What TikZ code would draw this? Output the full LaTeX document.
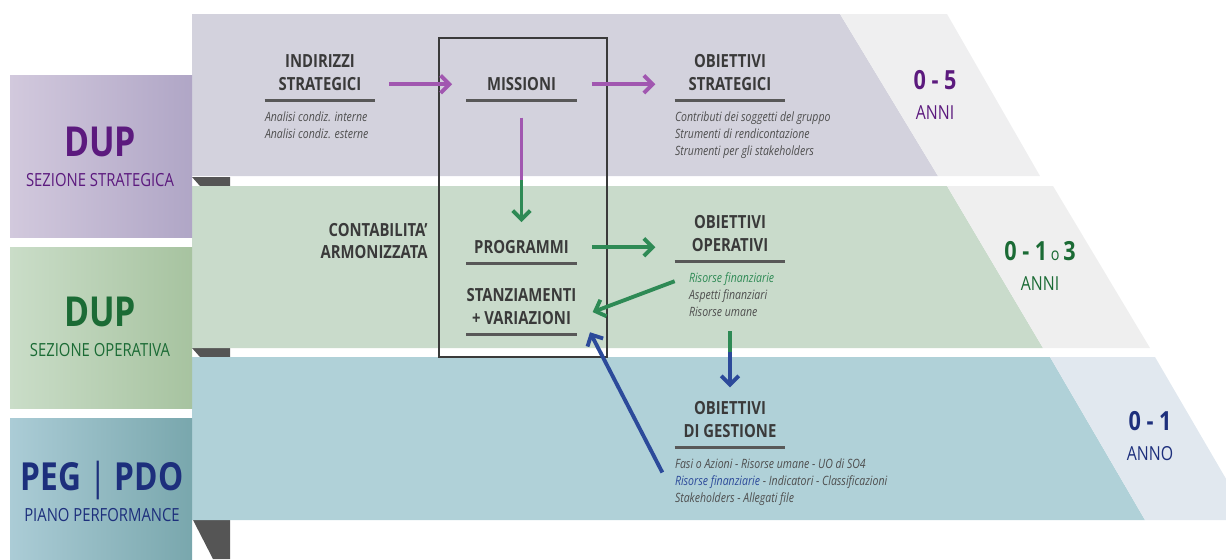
\documentclass[tikz,border=0pt]{standalone}
\usepackage{fontspec}
\setmainfont{Open Sans}[FakeStretch=0.82]
\usetikzlibrary{arrows.meta,positioning}

\definecolor{bandtop}{HTML}{D3D2DD}
\definecolor{bandtopl}{HTML}{EFEFF0}
\definecolor{bandmid}{HTML}{C9DBCB}
\definecolor{bandmidl}{HTML}{EFEFEF}
\definecolor{bandlow}{HTML}{B0D1D8}
\definecolor{bandlowl}{HTML}{E1E8EF}
\definecolor{boxviolaA}{HTML}{D2C9DD}
\definecolor{boxviolaB}{HTML}{B0A6C6}
\definecolor{boxverdeA}{HTML}{CADDC8}
\definecolor{boxverdeB}{HTML}{A7C3A0}
\definecolor{boxbluA}{HTML}{ABCCD6}
\definecolor{boxbluB}{HTML}{79A7AD}
\definecolor{ink}{HTML}{3A3A3A}
\definecolor{notegrey}{HTML}{4E4E4E}
\definecolor{dupviola}{HTML}{5C1A7E}
\definecolor{dupverde}{HTML}{1B6B35}
\definecolor{pegblu}{HTML}{1D2F7C}
\definecolor{arrviola}{HTML}{A157B0}
\definecolor{arrverde}{HTML}{2E8A55}
\definecolor{arrblu}{HTML}{2C4A9A}
\definecolor{piega}{HTML}{555555}

\tikzset{
  titolo/.style={font=\bfseries\fontsize{10.3}{13}\selectfont, text=ink, align=center,
    minimum width=2.2cm, inner xsep=0pt, inner ysep=5pt, anchor=south},
  sottolinea/.style={draw=ink!85, line width=1.7pt},
  nota/.style={font=\itshape\fontsize{7.3}{9.6}\selectfont, text=notegrey, align=left, inner sep=0pt},
  sigla/.style={font=\bfseries\fontsize{23.5}{26}\selectfont},
  sezione/.style={font=\fontsize{10.3}{12}\selectfont},
  anno/.style={font=\fontsize{11}{17}\selectfont, align=center},
  conn/.style={line width=2.2pt},
  freccia/.style={conn, -{Straight Barb[length=5pt,width=10pt]}},
}

\begin{document}
\begin{tikzpicture}[x=0.02cm, y=-0.02cm]
  \useasboundingbox (0,0) rectangle (1226,559);
  \clip (0,0) rectangle (1226,559);

  % pieghe scure
  \fill[piega] (192,177) -- (230,177) -- (230,186) -- (200,186) -- cycle;
  \fill[piega] (192,348) -- (230,348) -- (230,357) -- (200,357) -- cycle;
  \fill[piega] (193,520) -- (230,520) -- (230,559) -- (213,559) -- cycle;

  % fasce
  \fill[bandtop] (192,14) -- (840,14) -- (938,176) -- (192,176) -- cycle;
  \fill[bandtopl] (840,14) -- (947,14) -- (1040,176) -- (938,176) -- cycle;
  \fill[bandmid] (192,186) -- (947,186) -- (1043,348) -- (192,348) -- cycle;
  \fill[bandmidl] (947,186) -- (1053,186) -- (1150,348) -- (1043,348) -- cycle;
  \fill[bandlow] (192,357) -- (1050,357) -- (1145,520) -- (192,520) -- cycle;
  \fill[bandlowl] (1050,357) -- (1155,357) -- (1250,520) -- (1145,520) -- cycle;

  % riquadri a sinistra
  \shade[left color=boxviolaA, right color=boxviolaB] (10,75) rectangle (192,237);
  \shade[left color=boxverdeA, right color=boxverdeB] (10,247) rectangle (192,408);
  \shade[left color=boxbluA, right color=boxbluB] (10,418) rectangle (192,559);

  \node[sigla, text=dupviola] (dup1) at (100,142) {DUP};
  \node[sezione, text=dupviola] (sez1) at (100,180) {SEZIONE STRATEGICA};
  \node[sigla, text=dupverde] (dup2) at (100,312) {DUP};
  \node[sezione, text=dupverde] (sez2) at (100,350) {SEZIONE OPERATIVA};
  \node[sigla, text=pegblu, font=\bfseries\fontsize{22}{26}\selectfont] (peg) at (102,480) {PEG {\mdseries|} PDO};
  \node[sezione, text=pegblu] (piano) at (102,515) {PIANO PERFORMANCE};

  % contabilita'
  \draw[draw=ink, line width=1.2pt] (439,38) rectangle (607,357);

  % titoli
  \node[titolo] (ind) at (320,100) {INDIRIZZI\\STRATEGICI};
  \node[titolo] (mis) at (521.5,100) {MISSIONI};
  \node[titolo] (ostr) at (730,100) {OBIETTIVI\\STRATEGICI};
  \node[titolo] (prog) at (521.5,263) {PROGRAMMI};
  \node[titolo] (oper) at (730,261) {OBIETTIVI\\OPERATIVI};
  \node[titolo] (stanz) at (521.5,334) {STANZIAMENTI\\+ VARIAZIONI};
  \node[titolo] (gest) at (730,447) {OBIETTIVI\\DI GESTIONE};
  \node[titolo, anchor=east, inner sep=0pt, minimum width=0pt, align=right] (contab) at (428,241)
    {CONTABILITA'\\ARMONIZZATA};

  \foreach \t in {ind,mis,ostr,prog,oper,stanz,gest}
    \draw[sottolinea] (\t.south west) -- (\t.south east);

  % note
  \node[nota, below=6.5pt of ind.south west, anchor=north west] (nind)
    {Analisi condiz. interne\\Analisi condiz. esterne};
  \node[nota, below=6.5pt of ostr.south west, anchor=north west] (nostr)
    {Contributi dei soggetti del gruppo\\Strumenti di rendicontazione\\Strumenti per gli stakeholders};
  \node[nota, below right=6.5pt and 8pt of oper.south west] (noper)
    {\textcolor{arrverde}{Risorse finanziarie}\\Aspetti finanziari\\Risorse umane};
  \node[nota, below=6.5pt of gest.south west, anchor=north west] (ngest)
    {Fasi o Azioni - Risorse umane - UO di SO4\\\textcolor{arrblu}{Risorse finanziarie} - Indicatori - Classificazioni\\Stakeholders - Allegati file};

  % anni
  \node[anno, text=dupviola] (a5) at (935,95) {{\bfseries\fontsize{15}{17}\selectfont 0 - 5}\\ANNI};
  \node[anno, text=dupverde] (a3) at (1040,266)
    {{\bfseries\fontsize{15}{17}\selectfont 0 - 1}{\fontsize{10}{17}\selectfont\ o\ }{\bfseries\fontsize{15}{17}\selectfont 3}\\ANNI};
  \node[anno, text=pegblu] (a1) at (1150,436) {{\bfseries\fontsize{15}{17}\selectfont 0 - 1}\\ANNO};

  % frecce
  \draw[freccia, arrviola, shorten <=8pt, shorten >=8pt] (ind.east |- mis.west) -- (mis.west);
  \draw[freccia, arrviola, shorten <=8.5pt, shorten >=11pt] (mis.east) -- (mis.east -| ostr.west);
  \coordinate (mp) at (mis.south |- 0,180);
  \draw[conn, arrviola] ([yshift=-10pt]mis.south) -- (mp);
  \draw[freccia, arrverde, shorten >=5.3pt] (mp) -- (prog.north);
  \draw[freccia, arrverde, shorten <=8.5pt, shorten >=11pt] (prog.east) -- (prog.east -| oper.west);
  \draw[freccia, arrverde] ([xshift=-8pt,yshift=-5pt]noper.north west) -- ([xshift=9pt,yshift=-3pt]stanz.east);
  \coordinate (og) at (oper.south |- 0,352);
  \draw[conn, arrverde] ([yshift=-40pt]oper.south) -- (og);
  \draw[freccia, arrblu, shorten >=3pt] (og) -- (gest.north);
  \draw[freccia, arrblu] ([xshift=-7pt,yshift=-8pt]ngest.north west) -- ([xshift=7.5pt,yshift=1pt]stanz.south east);
\end{tikzpicture}
\end{document}
